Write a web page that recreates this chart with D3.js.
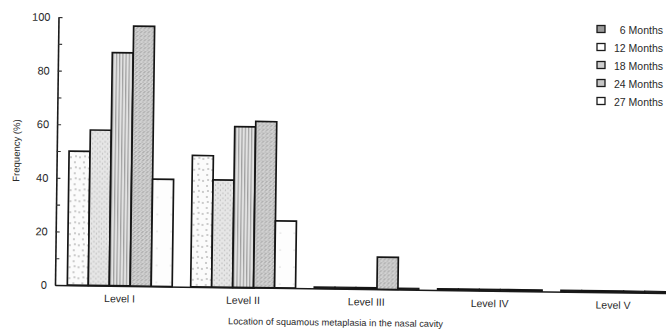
<!DOCTYPE html>
<html>
<head>
<meta charset="utf-8">
<script src="https://cdn.jsdelivr.net/npm/d3@7"></script>
<style>
  body { margin: 0; background: #fff; }
  text { font-family: "Liberation Sans", Arial, sans-serif; fill: #2a2a2a; }
</style>
</head>
<body>
<div id="chart"></div>
<script>
//! DATA
const levels = ['Level I', 'Level II', 'Level III', 'Level IV', 'Level V'];
const series = ['6 Months', '12 Months', '18 Months', '24 Months', '27 Months'];
const months6 = [50, 49, 0, 0, 0];
const months12 = [58, 40, 0, 0, 0];
const months18 = [87, 60, 0, 0, 0];
const months24 = [97, 62, 12, 0, 0];
const months27 = [40, 25, 0, 0, 0];
const yTicks = [0, 10, 20, 30, 40, 50, 60, 70, 80, 90, 100];
const yLabel = 'Frequency (%)';
const xLabel = 'Location of squamous metaplasia in the nasal cavity';

const values = [months6, months12, months18, months24, months27];

//! CONSTS
const WIDTH = 666, HEIGHT = 332;
const LEFT = 55, BASE = 285, TOP = 17, RIGHT = 678;
const TILT = 0.75; // scanned page is slightly rotated

const svg = d3.select('#chart')
  .append('svg')
  .attr('width', WIDTH)
  .attr('height', HEIGHT);

//! PATTERNS
const defs = svg.append('defs');
const sparse = defs.append('pattern').attr('id', 'p0')
  .attr('patternUnits', 'userSpaceOnUse').attr('width', 9).attr('height', 11);
sparse.append('rect').attr('width', 9).attr('height', 11).attr('fill', '#fbfbfb');
[[2, 3], [6, 8], [7, 2]].forEach(([cx, cy]) =>
  sparse.append('circle').attr('cx', cx).attr('cy', cy).attr('r', 0.7).attr('fill', '#777'));

const light = defs.append('pattern').attr('id', 'p1')
  .attr('patternUnits', 'userSpaceOnUse').attr('width', 5).attr('height', 5);
light.append('rect').attr('width', 5).attr('height', 5).attr('fill', '#e6e6e6');
[[1, 1], [3.5, 3]].forEach(([cx, cy]) =>
  light.append('circle').attr('cx', cx).attr('cy', cy).attr('r', 0.6).attr('fill', '#999'));

const stripes = defs.append('pattern').attr('id', 'p2')
  .attr('patternUnits', 'userSpaceOnUse').attr('width', 3.2).attr('height', 4);
stripes.append('rect').attr('width', 3.2).attr('height', 4).attr('fill', '#e2e2e2');
stripes.append('rect').attr('x', 1).attr('width', 0.9).attr('height', 4).attr('fill', '#8a8a8a');

const dense = defs.append('pattern').attr('id', 'p3')
  .attr('patternUnits', 'userSpaceOnUse').attr('width', 4).attr('height', 4);
dense.append('rect').attr('width', 4).attr('height', 4).attr('fill', '#d2d2d2');
[[1, 1], [3, 2.5], [2, 3.5]].forEach(([cx, cy]) =>
  dense.append('circle').attr('cx', cx).attr('cy', cy).attr('r', 0.6).attr('fill', '#888'));

const plain = defs.append('pattern').attr('id', 'p4')
  .attr('patternUnits', 'userSpaceOnUse').attr('width', 14).attr('height', 17);
plain.append('rect').attr('width', 14).attr('height', 17).attr('fill', '#fdfdfd');
plain.append('circle').attr('cx', 5).attr('cy', 9).attr('r', 0.5).attr('fill', '#aaa');

const fills = ['url(#p0)', 'url(#p1)', 'url(#p2)', 'url(#p3)', 'url(#p4)'];

//! SCALES
const x0 = d3.scaleBand().domain(levels).range([LEFT, RIGHT])
  .paddingInner(0.15).paddingOuter(0.1);
const x1 = d3.scaleBand().domain(series).range([0, x0.bandwidth()]);
const y = d3.scaleLinear().domain([0, 100]).range([BASE, TOP]);

const plot = svg.append('g')
  .attr('transform', `rotate(${TILT}, ${LEFT}, ${BASE})`);

// bars
const groups = plot.selectAll('g.level')
  .data(levels)
  .enter()
  .append('g')
  .attr('class', 'level')
  .attr('transform', d => `translate(${x0(d)},0)`);

groups.selectAll('rect')
  .data((lv, i) => series.map((s, j) => ({ s, j, v: values[j][i] })))
  .enter()
  .append('rect')
  .attr('x', d => x1(d.s))
  .attr('width', x1.bandwidth())
  .attr('y', d => d.v > 0 ? y(d.v) : y(0) - 1.5)
  .attr('height', d => d.v > 0 ? y(0) - y(d.v) : 1.5)
  .attr('fill', d => d.v > 0 ? fills[d.j] : '#111')
  .attr('stroke', '#151515')
  .attr('stroke-width', d => d.v > 0 ? 1.7 : 1.2);

// axes
const yAxis = d3.axisLeft(y)
  .tickValues(yTicks)
  .tickSizeInner(-4)
  .tickSizeOuter(0)
  .tickPadding(8)
  .tickFormat(d => d % 20 === 0 ? d : '');

const ya = plot.append('g')
  .attr('transform', `translate(${LEFT},0)`)
  .call(yAxis);
ya.select('.domain').attr('stroke', '#1a1a1a').attr('stroke-width', 1.6);
ya.selectAll('.tick line').attr('stroke', '#333').attr('stroke-width', 1.1);
ya.selectAll('.tick text').style('font-size', '11px').attr('fill', '#2a2a2a');

const xAxis = d3.axisBottom(x0).tickSize(0).tickPadding(9);
const xa = plot.append('g')
  .attr('transform', `translate(0,${BASE})`)
  .call(xAxis);
xa.select('.domain').attr('stroke', '#1a1a1a').attr('stroke-width', 1.5);
xa.selectAll('.tick text').style('font-size', '10.5px').attr('fill', '#2a2a2a');

// axis titles
plot.append('text')
  .attr('transform', `translate(18,${(BASE + TOP) / 2}) rotate(-90)`)
  .attr('text-anchor', 'middle')
  .style('font-size', '9.5px')
  .text(yLabel);

plot.append('text')
  .attr('x', 336)
  .attr('y', 322)
  .attr('text-anchor', 'middle')
  .style('font-size', '9.3px')
  .text(xLabel);

//! LEGEND
const legend = svg.append('g')
  .attr('transform', 'translate(597,25.5)');
const row = legend.selectAll('g')
  .data(series)
  .enter()
  .append('g')
  .attr('transform', (d, i) => `translate(0,${i * 18})`);
row.append('rect')
  .attr('width', 8).attr('height', 7)
  .attr('fill', (d, i) => ['#9a9a9a', '#fff', '#cfcfcf', '#c6c6c6', '#fff'][i])
  .attr('stroke', '#1a1a1a').attr('stroke-width', 1.3);
row.append('text')
  .attr('x', 17)
  .attr('y', 8)
  .style('font-size', '10.5px')
  .text(d => d.length < 9 ? '\u2007' + d : d);
</script>
</body>
</html>
